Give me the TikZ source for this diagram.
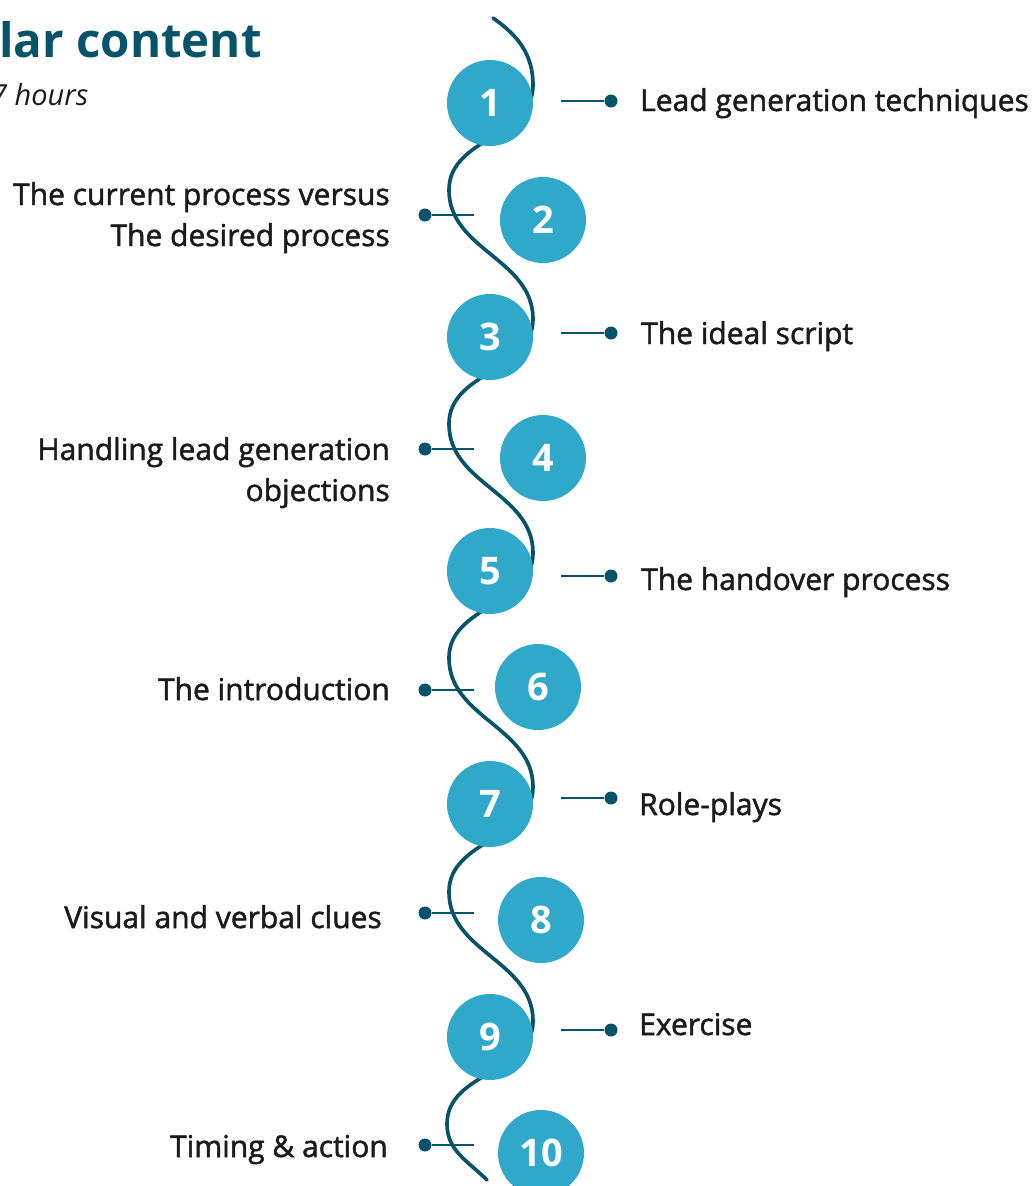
\documentclass[tikz,border=0pt]{standalone}
\usepackage{fontspec}
\setmainfont{Open Sans}
\newfontfamily\semibold{Open Sans}[FakeBold=1.6]
\usepackage{tikz}
\usetikzlibrary{positioning}
\definecolor{darkteal}{HTML}{07536A}
\definecolor{lightteal}{HTML}{2FA8C9}
\definecolor{textgray}{HTML}{1A1A1A}

\tikzset{
  num/.style={circle, fill=lightteal, minimum size=86pt, inner sep=0pt,
    text=white, font=\fontsize{38}{38}\selectfont\bfseries},
  dot/.style={circle, fill=darkteal, minimum size=13pt, inner sep=0pt},
  item/.style={text=textgray, inner sep=0pt,
    font=\fontsize{30}{41}\selectfont\semibold},
  tick/.style={darkteal, line width=2pt},
}

\begin{document}
\begin{tikzpicture}[x=1pt, y=-1pt]
  \useasboundingbox (0,0) rectangle (1035,1186);

  % heading
  \node[anchor=base west, inner sep=0pt, text=darkteal, font=\fontsize{47.5}{48}\selectfont\bfseries] (title) at (-1,57) {lar content};
  \node[anchor=base west, inner sep=0pt, text=textgray, font=\fontsize{29}{30}\selectfont\itshape] (hours) at (-9,105) {7 hours};

  % wavy line behind the steps
  \draw[darkteal, line width=3.7pt, line cap=round]
    (493,18) to[out=-35,in=90] (533,85)
    to[out=-90,in=90] (449,190) to[out=-90,in=90] (533,319)
    to[out=-90,in=90] (449,424) to[out=-90,in=90] (533,553)
    to[out=-90,in=90] (449,658) to[out=-90,in=90] (533,787)
    to[out=-90,in=90] (449,892) to[out=-90,in=90] (533,1021)
    to[out=-90,in=90] (447,1124) to[out=-90,in=135] (487,1180);

  % steps
  \node[num] (n1) at (490,103) {1};
  \node[num] (n2) at (543,220) {2};
  \node[num] (n3) at (490,337) {3};
  \node[num] (n4) at (543,458) {4};
  \node[num] (n5) at (490,571) {5};
  \node[num] (n6) at (538,687) {6};
  \node[num] (n7) at (490,804) {7};
  \node[num] (n8) at (541,920) {8};
  \node[num] (n9) at (490,1037) {9};
  \node[num] (n10) at (541,1153) {10};

  % right side ticks
  \coordinate (r1) at (561,101);
  \coordinate (r3) at (561,333);
  \coordinate (r5) at (561,576);
  \coordinate (r7) at (561,798);
  \coordinate (r9) at (561,1030);
  \node[dot] (d1) at (611,101) {};
  \node[dot] (d3) at (611,333) {};
  \node[dot] (d5) at (611,576) {};
  \node[dot] (d7) at (611,798) {};
  \node[dot] (d9) at (611,1030) {};
  \draw[tick] (r1) -- (d1);
  \draw[tick] (r3) -- (d3);
  \draw[tick] (r5) -- (d5);
  \draw[tick] (r7) -- (d7);
  \draw[tick] (r9) -- (d9);

  % left side ticks
  \coordinate (l2) at (474,215);
  \coordinate (l4) at (474,449);
  \coordinate (l6) at (474,690);
  \coordinate (l8) at (474,913);
  \coordinate (l10) at (474,1145);
  \node[dot] (d2) at (425,215) {};
  \node[dot] (d4) at (425,449) {};
  \node[dot] (d6) at (425,690) {};
  \node[dot] (d8) at (425,913) {};
  \node[dot] (d10) at (425,1145) {};
  \draw[tick] (d2) -- (l2);
  \draw[tick] (d4) -- (l4);
  \draw[tick] (d6) -- (l6);
  \draw[tick] (d8) -- (l8);
  \draw[tick] (d10) -- (l10);

  % labels
  \node[item, anchor=base west] (t1) at (640,111) {Lead generation techniques};
  \node[item, anchor=base east, align=right] (t2) at (390,246) {The current process versus\\The desired process};
  \node[item, anchor=base west] (t3) at (641,344) {The ideal script};
  \node[item, anchor=base east, align=right] (t4) at (390,501) {Handling lead generation\\objections};
  \node[item, anchor=base west] (t5) at (641,590) {The handover process};
  \node[item, anchor=base east] (t6) at (390,700) {The introduction};
  \node[item, anchor=base west] (t7) at (639,815) {Role-plays};
  \node[item, anchor=base east] (t8) at (382,928) {Visual and verbal clues};
  \node[item, anchor=base west] (t9) at (639,1035) {Exercise};
  \node[item, anchor=base east] (t10) at (388,1157) {Timing \& action};
\end{tikzpicture}
\end{document}
